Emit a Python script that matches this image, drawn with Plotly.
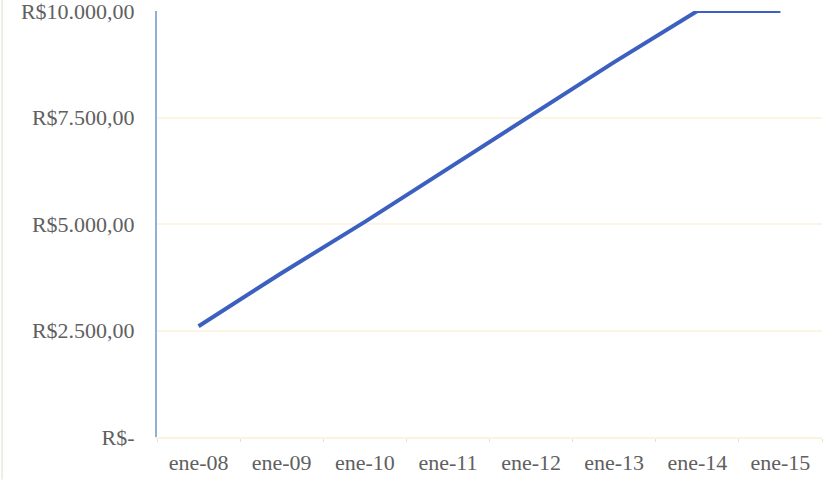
import plotly.graph_objects as go

meses = ["ene-08", "ene-09", "ene-10", "ene-11", "ene-12", "ene-13", "ene-14", "ene-15"]
valores = [2600, 3850, 5050, 6300, 7550, 8800, 10000, 10000]

y_ticks = [0, 2500, 5000, 7500, 10000]
y_labels = ["R$-", "R$2.500,00", "R$5.000,00", "R$7.500,00", "R$10.000,00"]

fig = go.Figure()
fig.add_trace(go.Scatter(x=meses, y=valores, mode="lines",
                         line=dict(color="#3b60bf", width=4)))

fig.update_layout(
    width=827, height=481,
    margin=dict(l=157, r=5, t=11, b=44, autoexpand=False),
    paper_bgcolor="white", plot_bgcolor="white",
    showlegend=False,
    font=dict(family="Liberation Serif", size=22, color="#606060"),
)
fig.update_xaxes(
    type="category", range=[-0.5, len(meses) - 0.5], showgrid=False,
    showline=True, linecolor="#fbf3df", linewidth=2,
    ticks="outside", ticklen=3, tickcolor="#d8e8d0",
    tickson="boundaries", ticklabelstandoff=5,
    tickfont=dict(size=22),
)
fig.update_yaxes(
    range=[0, 10000], tickvals=y_ticks, ticktext=y_labels,
    showgrid=True, gridcolor="#fcf5e4", gridwidth=2,
    showline=True, linecolor="#8fb0d8", linewidth=2,
    zeroline=False, ticks="outside", ticklen=16, tickcolor="rgba(0,0,0,0)",
    ticklabeloverflow="allow",
)
# borde izquierdo del grafico
fig.add_shape(type="line", xref="paper", yref="paper", x0=-0.233, x1=-0.233, y0=-0.1, y1=1.03,
              line=dict(color="#d8e0d0", width=1))

fig.write_html("out.html", config={"displayModeBar": False},
               post_script="document.body.style.margin='0';")
